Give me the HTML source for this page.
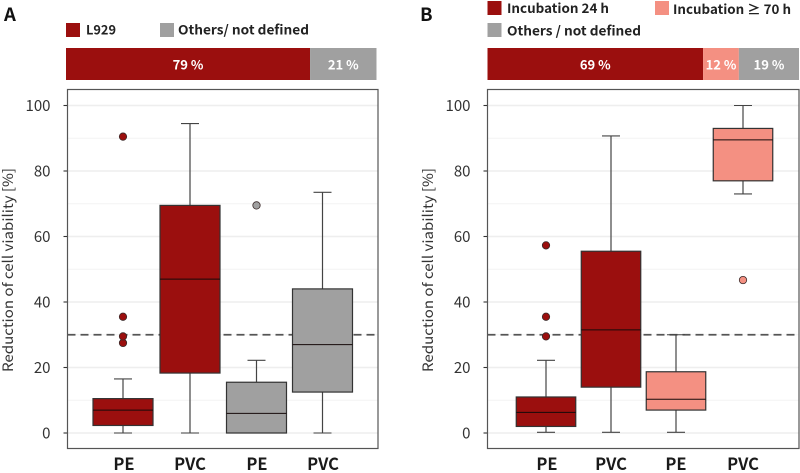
<!DOCTYPE html>
<html lang="en">
<head>
<meta charset="utf-8">
<title>Reduction of cell viability box plots</title>
<style>
html,body{margin:0;padding:0;background:#fff;}
svg{display:block;font-family:"Noto Sans CJK JP","Liberation Sans",sans-serif;}
</style>
</head>
<body>
<svg id="chart" width="800" height="473" viewBox="0 0 800 473" xmlns="http://www.w3.org/2000/svg"></svg>
<script>
// Data
const categories = ["PE", "PVC", "PE", "PVC"];
const yTicks = [0, 20, 40, 60, 80, 100];
const yMinorTicks = [10, 30, 50, 70, 90];
const thresholdValue = 30;

const panelAWhiskerLow = [0, 0, 0, 0];
const panelAQ1 = [2.3, 18.3, 0, 12.5];
const panelAMedian = [7, 47, 6, 27];
const panelAQ3 = [10.5, 69.5, 15.5, 44];
const panelAWhiskerHigh = [16.5, 94.5, 22.2, 73.5];
const panelAOutliers = [[27.5, 29.5, 35.5, 90.5], [], [69.5], []];

const panelBWhiskerLow = [0.2, 0.2, 0.2, 73];
const panelBQ1 = [2, 14, 7, 77];
const panelBMedian = [6.3, 31.5, 10.3, 89.5];
const panelBQ3 = [11, 55.5, 18.7, 93];
const panelBWhiskerHigh = [22.2, 90.7, 30, 100];
const panelBOutliers = [[29.5, 35.5, 57.3], [], [], [46.7]];

const panelAShares = [78.6, 21.4];
const panelBShares = [69.2, 11.5, 19.3];

const RED = "#9b0f0e", SALMON = "#f49082", GREY = "#a0a0a0";

const svg = document.getElementById("chart");
const NS = "http://www.w3.org/2000/svg";

function add(parent, tag, attrs, text) {
  const n = document.createElementNS(NS, tag);
  for (const k in attrs) n.setAttribute(k, attrs[k]);
  if (text !== undefined) n.textContent = text;
  parent.appendChild(n);
  return n;
}

function makeY() {
  return v => 433 - v * 3.275;
}

function drawPanel(cfg) {
  const y = makeY();
  const x = i => cfg.centers[i];
  const g = add(svg, "g", {});
  
  

  const letter = add(g, "text", {x: cfg.letterX, y: cfg.letterY, "font-size": 18.5, "font-weight": "bold", fill: "#111"}, cfg.letter);
  
  

  // Legend
  cfg.legend.forEach(l => {
    const sw = add(g, "rect", {x: l.x, y: l.y, width: 14, height: 14, fill: l.color});
    
    
    const t = add(g, "text", {x: l.tx, y: l.ty, "font-size": 13, "font-weight": "bold", fill: "#222", textLength: l.tw, lengthAdjust: "spacingAndGlyphs"}, l.label);
    
    
  });

  // Stacked share bar
  const barWidth = cfg.barRight - cfg.barLeft;
  let acc = 0;
  cfg.shares.forEach((s, i) => {
    const x0 = cfg.barLeft + acc / 100 * barWidth;
    const w = s / 100 * barWidth;
    const r = add(g, "rect", {x: x0, y: 48, width: w, height: 32, fill: cfg.shareColors[i]});
    
    
    const t = add(g, "text", {x: x0 + w / 2, y: 69.5, "font-size": 13, "font-weight": "bold", fill: "#fff", "text-anchor": "middle"}, Math.round(s) + " %");
    
    
    acc += s;
  });

  // Plot background
  const bg = add(g, "rect", {x: cfg.left, y: 89.5, width: cfg.right - cfg.left, height: 359, fill: "#fff"});
  
  

  // Grid
  yMinorTicks.forEach(v => {
    const l = add(g, "line", {x1: cfg.left, x2: cfg.right, y1: y(v), y2: y(v), stroke: "#f4f4f4", "stroke-width": 1});
    
    
  });
  yTicks.forEach(v => {
    const l = add(g, "line", {x1: cfg.left, x2: cfg.right, y1: y(v), y2: y(v), stroke: "#eeeeee", "stroke-width": 1.4});
    
    
    const tk = add(g, "line", {x1: cfg.left - 4, x2: cfg.left, y1: y(v), y2: y(v), stroke: "#333", "stroke-width": 1.1});
    
    
    const lb = add(g, "text", {x: cfg.left - 17, y: y(v) + 5.5, "font-size": 15, fill: "#333", "text-anchor": "end"}, String(v));
    
    
  });

  // Threshold
  const th = add(g, "line", {x1: cfg.left, x2: cfg.right, y1: y(thresholdValue), y2: y(thresholdValue), stroke: "#555", "stroke-width": 1.8, "stroke-dasharray": "8 5"});
  
  

  // Boxes
  categories.forEach((c, i) => {
    const bw = cfg.boxWidth, cx = x(i), col = cfg.colors[i];
    const box = add(g, "g", {});
    
    
    add(box, "line", {x1: cx, x2: cx, y1: y(cfg.hi[i]), y2: y(cfg.lo[i]), stroke: "#444", "stroke-width": 1.2});
    [cfg.hi[i], cfg.lo[i]].forEach(v => {
      add(box, "line", {x1: cx - 9, x2: cx + 9, y1: y(v), y2: y(v), stroke: "#444", "stroke-width": 1.1});
    });
    add(box, "rect", {x: cx - bw / 2, y: y(cfg.q3[i]), width: bw, height: y(cfg.q1[i]) - y(cfg.q3[i]), fill: col, stroke: "#333", "stroke-width": 1.2});
    add(box, "line", {x1: cx - bw / 2, x2: cx + bw / 2, y1: y(cfg.med[i]), y2: y(cfg.med[i]), stroke: "#160a0a", "stroke-width": 1});
    cfg.out[i].forEach(v => {
      const o = add(box, "circle", {cx: cx, cy: y(v), r: 3.7, fill: col, stroke: "#3a2a2a", "stroke-width": 0.8});
      
      
    });
    const lab = add(g, "text", {x: cx + cfg.labelShift[i], y: 470, "font-size": 16.5, "font-weight": "bold", fill: "#1a1a1a", "text-anchor": "middle"}, c);
    
    
  });

  // Frame
  const fr = add(g, "rect", {x: cfg.left, y: 89.5, width: cfg.right - cfg.left, height: 359, fill: "none", stroke: "#555", "stroke-width": 1.2});
  
  

  // Y title
  const yt = add(g, "text", {transform: "translate(" + cfg.titleX + " 270) rotate(-90)", "font-size": 14, fill: "#333", "text-anchor": "middle", textLength: 204, lengthAdjust: "spacingAndGlyphs", "xml:space": "preserve"}, "Reduction of cell viability  [%]");
  
  
}

drawPanel({
  id: "panel-a", letter: "A", letterX: 4, letterY: 21,
  left: 67.5, right: 378, centers: [123, 190, 256.5, 322.5], boxWidth: 60,
  titleX: 13, labelShift: [1, 0, 0.5, 0.5],
  lo: panelAWhiskerLow, q1: panelAQ1, med: panelAMedian, q3: panelAQ3, hi: panelAWhiskerHigh, out: panelAOutliers,
  colors: [RED, RED, GREY, GREY],
  barLeft: 66, barRight: 376.5, shares: panelAShares, shareColors: [RED, GREY],
  legend: [
    {x: 66, y: 23, tx: 86, ty: 34.5, tw: 30, color: RED, label: "L929"},
    {x: 160, y: 23, tx: 178, ty: 34.5, tw: 131, color: GREY, label: "Others/ not defined"}
  ]
});

drawPanel({
  id: "panel-b", letter: "B", letterX: 420, letterY: 21,
  left: 487.5, right: 799, centers: [546, 611, 676, 743], boxWidth: 59.5,
  titleX: 433, labelShift: [1, 0, 0, 0],
  lo: panelBWhiskerLow, q1: panelBQ1, med: panelBMedian, q3: panelBQ3, hi: panelBWhiskerHigh, out: panelBOutliers,
  colors: [RED, RED, SALMON, SALMON],
  barLeft: 487.5, barRight: 799, shares: panelBShares, shareColors: [RED, SALMON, GREY],
  legend: [
    {x: 487.5, y: 1, tx: 507, ty: 13, tw: 102, color: RED, label: "Incubation 24 h"},
    {x: 655, y: 1, tx: 673, ty: 14, tw: 118, color: SALMON, label: "Incubation ≥ 70 h"},
    {x: 487.5, y: 23, tx: 507, ty: 35.5, tw: 134, color: GREY, label: "Others / not defined"}
  ]
});
</script>
</body>
</html>
